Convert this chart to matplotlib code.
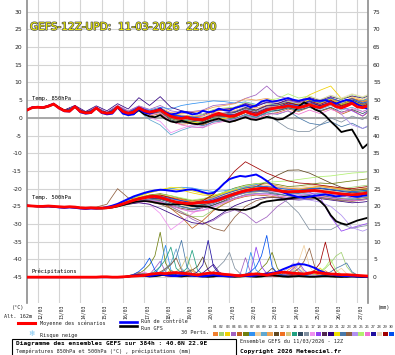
import numpy as np
import matplotlib
matplotlib.use('Agg')
import matplotlib.pyplot as plt
import matplotlib.patheffects as pe
from matplotlib.patches import Rectangle
from matplotlib.lines import Line2D

plt.rcParams['axes.unicode_minus'] = False
W, H = 395, 355
MONO = 'DejaVu Sans Mono'

# forecast hours (run 11/03 12Z, 384h)
hours = np.arange(0, 385, 6)
pert_hours = [0] + list(range(6, 379, 12)) + [384]
precip_pert_hours = np.arange(114, 385, 6)
day_labels = ['12/03', '13/03', '14/03', '15/03', '16/03', '17/03', '18/03', '19/03',
              '20/03', '21/03', '22/03', '23/03', '24/03', '25/03', '26/03', '27/03']
day_hours = [12 + 24 * i for i in range(len(day_labels))]

# 850 hPa temperature (C)
t850_mean = [2.2, 2.9, 3.0, 2.9, 3.3, 3.9, 2.8, 2.0, 1.9, 3.2,
             1.8, 1.4, 1.5, 2.8, 1.6, 1.3, 1.5, 3.1, 1.8, 1.3,
             1.6, 2.8, 2.0, 1.6, 1.9, 2.3, 1.3, 0.4, 0.0, -0.2,
             0.2, -0.3, -0.4, -0.5, 0.1, 0.8, 1.3, 0.8, 0.4, 0.6,
             1.2, 1.8, 1.2, 0.8, 1.5, 2.2, 2.6, 2.9, 3.0, 3.4,
             3.1, 2.9, 3.2, 3.7, 3.2, 2.9, 3.5, 4.1, 3.2, 2.8,
             3.4, 4.1, 3.1, 2.9, 3.4]
t850_ctrl = [2.2, 3.0, 3.1, 2.9, 3.4, 4.0, 2.7, 1.9, 1.8, 3.3,
             1.6, 1.2, 1.4, 2.9, 1.4, 1.0, 1.2, 3.0, 1.2, 0.8,
             1.0, 2.5, 1.5, 1.2, 1.8, 2.7, 1.5, 1.0, 1.2, 1.8,
             1.5, 1.0, 1.2, 2.0, 1.6, 1.8, 2.6, 2.2, 2.0, 2.8,
             3.2, 3.6, 3.0, 3.5, 4.6, 5.0, 4.6, 4.8, 5.2, 5.6,
             5.1, 4.8, 5.2, 5.4, 4.9, 4.8, 5.0, 4.4, 4.0, 4.6,
             5.1, 4.7, 3.8, 3.0, 2.6]
t850_gfs = [2.2, 2.9, 3.0, 2.8, 3.2, 3.8, 2.9, 2.1, 2.0, 3.1,
            1.9, 1.5, 1.6, 2.7, 1.7, 1.4, 1.6, 3.0, 1.5, 1.0,
            1.1, 2.2, 1.0, 0.4, 0.2, 0.8, -0.3, -1.0, -1.3, -0.8,
            -1.2, -1.6, -1.8, -1.5, -1.0, -0.6, -0.2, -0.8, -1.2, -0.8,
            -0.3, 0.2, -0.4, -0.6, -0.2, 0.3, 0.0, -0.5, -0.3, 0.6,
            1.5, 3.2, 4.4, 3.6, 2.4, 1.8, 0.6, -1.0, -2.4, -4.0,
            -3.6, -3.3, -5.8, -8.6, -7.3]

# 500 hPa temperature (C)
t500_mean = [-24.8, -24.9, -25.0, -25.0, -24.9, -25.0, -25.1, -25.2, -25.1, -25.2,
             -25.4, -25.5, -25.4, -25.5, -25.5, -25.4, -25.2, -24.8, -24.3, -23.8,
             -23.3, -22.9, -22.6, -22.3, -22.2, -22.5, -22.9, -23.4, -23.8, -24.0,
             -24.2, -24.2, -24.0, -23.9, -23.8, -23.6, -23.2, -22.6, -22.0, -21.5,
             -21.0, -20.6, -20.3, -20.1, -19.9, -19.9, -20.2, -20.5, -20.8, -20.9,
             -20.8, -20.8, -20.7, -20.6, -20.5, -20.7, -20.9, -21.1, -21.3, -21.5,
             -21.6, -21.7, -21.6, -21.4, -21.2]
t500_ctrl = [-24.8, -24.9, -25.0, -25.1, -25.0, -25.1, -25.3, -25.4, -25.3, -25.4,
             -25.6, -25.7, -25.6, -25.6, -25.5, -25.2, -24.8, -24.3, -23.6, -22.9,
             -22.2, -21.7, -21.2, -20.8, -20.5, -20.3, -20.4, -20.6, -20.8, -20.6,
             -20.3, -20.2, -20.5, -21.0, -21.4, -21.2, -20.0, -18.5, -17.3, -16.8,
             -16.4, -16.6, -16.3, -16.0, -16.8, -17.8, -19.0, -20.2, -21.0, -21.6,
             -22.0, -22.4, -22.6, -22.3, -22.0, -21.8, -21.6, -21.9, -22.2, -22.0,
             -21.8, -22.1, -22.3, -22.0, -21.8]
t500_gfs = [-24.8, -24.9, -25.0, -25.0, -25.0, -25.1, -25.2, -25.3, -25.2, -25.3,
            -25.5, -25.6, -25.5, -25.6, -25.6, -25.5, -25.3, -25.0, -24.6, -24.2,
            -23.8, -23.6, -23.5, -23.6, -23.9, -24.2, -24.4, -24.5, -24.4, -24.3,
            -24.5, -24.8, -25.0, -25.0, -25.1, -25.6, -26.0, -26.1, -25.9, -25.8,
            -26.0, -26.0, -25.6, -25.0, -24.0, -23.6, -23.4, -23.2, -23.1, -22.8,
            -22.6, -22.5, -22.3, -22.2, -22.5, -23.5, -25.0, -27.5, -29.2, -29.8,
            -30.2, -29.6, -29.0, -28.6, -28.2]

# precipitation (mm / 6h)
precip_mean = [0, 0, 0, 0, 0, 0, 0, 0, 0, 0,
               0, 0, 0, 0, 0.1, 0.1, 0, 0, 0.1, 0.2,
               0.3, 0.4, 0.5, 0.8, 1.0, 1.1, 1.0, 1.2, 1.3, 1.1,
               1.0, 0.8, 0.6, 0.9, 1.1, 1.2, 1.0, 0.8, 0.7, 0.5,
               0.4, 0.6, 0.8, 0.9, 0.8, 0.6, 0.9, 1.2, 1.4, 1.3,
               1.1, 1.0, 0.9, 1.2, 1.4, 1.2, 1.0, 0.9, 0.8, 0.7,
               0.7, 0.6, 0.5, 0.4, 0.3]
precip_ctrl = [0, 0, 0, 0, 0, 0, 0, 0, 0, 0,
               0, 0, 0, 0, 0, 0, 0, 0, 0, 0.2,
               0.4, 0.6, 0.5, 0.3, 0.5, 0.8, 0.6, 0.4, 0.3, 0.5,
               0.7, 0.5, 0.3, 0.2, 0.4, 0.6, 0.4, 0.3, 0.2, 0.3,
               0.5, 0.4, 0.3, 0.5, 0.8, 1.0, 1.2, 1.5, 2.2, 2.8,
               3.4, 3.7, 3.6, 3.2, 2.6, 1.8, 1.2, 0.8, 0.5, 0.4,
               0.3, 0.3, 0.2, 0.2, 0.1]
precip_gfs = [0, 0, 0, 0, 0, 0, 0, 0, 0, 0,
              0, 0, 0, 0, 0, 0, 0, 0, 0, 0.2,
              0.4, 0.6, 0.4, 0.2, 0.3, 0.5, 0.8, 0.5, 0.3, 0.2,
              0.4, 0.6, 0.3, 0.2, 0.1, 0.2, 0.4, 0.3, 0.2, 0.1,
              0.2, 0.3, 0.2, 0.1, 0.2, 0.4, 0.6, 0.4, 0.2, 0.1,
              0.2, 0.3, 0.2, 0.1, 0.1, 0.2, 0.3, 0.2, 0.1, 0.1,
              0.1, 0.2, 0.1, 0.1, 0.1]

pert_colors = ['#f08030', '#a0d070', '#f0d000', '#a060c0', '#c06020', '#708010',
               '#3090f0', '#f0d0a0', '#60a8d0', '#f0a050', '#604820', '#f07020',
               '#d8c880', '#20a080', '#304860', '#8090a0', '#f090f0', '#9040f0',
               '#502850', '#300080', '#f0e000', '#4878a8', '#906040', '#b090f0',
               '#b0f070', '#f070d0', '#2010a0', '#e8d8b8', '#a00000', '#0050f0']

t850_perts = [
    [2.2, 2.9, 3.0, 3.8, 2.1, 3.3, 1.5, 2.7, 1.2, 3.3, 1.5, 3.0, 1.8, 2.5, 0.8, 0.5, 0.2, -0.3, 1.5, 1.2, 2.0, 3.0, 2.2, 3.6, 3.5, 4.8, 4.2, 5.6, 4.0, 5.8, 4.5, 5.5, 4.8, 5.2],
    [2.2, 2.8, 2.9, 4.0, 2.0, 3.1, 1.3, 2.9, 1.4, 3.0, 1.0, 2.5, 1.0, 1.8, -0.5, -1.2, -0.8, -1.5, 0.2, 0.5, 1.0, 2.5, 1.5, 3.0, 2.8, 4.5, 3.6, 5.2, 3.5, 5.0, 3.2, 4.6, 3.0, 3.8],
    [2.2, 3.0, 2.9, 3.9, 1.9, 3.2, 1.5, 2.8, 1.5, 3.4, 1.8, 3.2, 2.0, 2.8, 1.2, 0.8, 0.5, 0.0, 1.0, 0.6, 0.2, 1.5, 1.0, 2.8, 3.8, 5.0, 4.5, 6.5, 7.8, 9.0, 5.5, 6.0, 5.0, 5.5],
    [2.2, 2.9, 2.8, 3.8, 2.0, 3.3, 1.6, 3.0, 1.6, 3.5, 2.0, 3.4, 2.4, 3.5, 2.0, 1.5, 1.8, 2.2, 3.5, 3.8, 4.2, 5.5, 6.5, 9.0, 6.2, 5.4, 4.0, 4.5, 3.5, 4.8, 3.2, 4.0, 2.6, 3.0],
    [2.2, 2.9, 3.1, 4.0, 2.2, 3.4, 1.4, 2.6, 1.0, 2.8, 0.8, 2.2, 0.5, 1.2, -1.0, -1.8, -1.5, -2.0, -0.5, -0.6, -1.0, 0.5, -0.5, 1.0, 1.5, 2.5, 1.8, 3.0, 1.8, 2.8, 1.0, 2.2, 0.5, 1.5],
    [2.2, 2.9, 2.9, 3.9, 2.0, 3.2, 1.4, 2.8, 1.3, 3.1, 1.2, 2.6, 1.4, 2.0, 0.0, -0.8, -0.5, -1.0, 0.5, 0.8, 1.5, 2.8, 2.0, 3.5, 4.0, 5.0, 4.4, 5.5, 4.8, 5.6, 4.2, 5.4, 4.5, 5.0],
    [2.2, 3.0, 3.0, 4.0, 2.1, 3.3, 1.5, 2.9, 1.4, 3.2, 1.5, 3.0, 2.2, 3.0, 2.5, 3.5, 4.0, 4.4, 4.8, 4.6, 4.2, 4.5, 3.8, 4.2, 3.6, 4.8, 4.0, 5.0, 4.2, 5.2, 4.0, 5.0, 4.8, 5.5],
    [2.2, 2.9, 2.9, 3.8, 1.9, 3.1, 1.3, 2.7, 1.2, 3.0, 1.1, 2.7, 1.5, 2.2, 0.2, -0.5, -0.8, -1.2, 0.0, 0.2, 0.4, 1.8, 1.2, 2.8, 3.5, 4.5, 5.0, 5.8, 4.6, 5.6, 4.2, 5.8, 5.2, 6.0],
    [2.2, 2.9, 3.0, 3.9, 2.0, 3.2, 1.3, 2.7, 1.1, 2.9, 0.5, 2.0, -0.5, -2.0, -4.8, -3.5, -2.5, -2.8, -1.0, -0.5, -0.8, 0.5, 0.0, 1.5, 2.0, 2.8, 2.0, 3.2, 2.4, 3.5, 2.2, 3.0, 1.8, 2.4],
    [2.2, 2.9, 2.9, 3.9, 2.0, 3.2, 1.4, 2.8, 1.3, 3.1, 1.4, 3.0, 1.9, 2.8, 1.5, 1.2, 1.6, 2.0, 3.0, 3.5, 4.0, 5.4, 5.0, 5.5, 4.8, 5.2, 4.5, 5.0, 4.2, 4.8, 3.8, 5.2, 4.6, 5.0],
    [2.2, 2.9, 2.9, 3.9, 2.0, 3.2, 1.4, 2.8, 1.4, 3.2, 1.6, 3.0, 1.2, 1.8, -0.2, -1.0, -1.5, -1.8, -0.8, -0.4, 0.2, 1.5, 0.6, 2.0, 2.5, 3.8, 3.0, 4.2, 3.5, 4.6, 3.8, 5.0, 4.0, 4.5],
    [2.2, 2.9, 3.0, 3.9, 2.1, 3.3, 1.5, 2.9, 1.4, 3.1, 1.3, 2.9, 1.7, 2.4, 0.6, 0.0, 0.2, 0.5, 1.8, 2.2, 2.5, 3.8, 2.8, 3.4, 3.0, 4.2, 3.4, 4.8, 3.6, 5.2, 4.6, 5.6, 4.4, 4.8],
    [2.2, 2.9, 2.9, 3.9, 2.0, 3.2, 1.4, 2.8, 1.3, 3.0, 1.2, 2.7, 1.5, 2.3, 0.5, 0.0, -0.2, -0.8, 0.5, 0.6, 0.8, 2.2, 1.8, 3.2, 3.8, 4.6, 4.0, 5.2, 3.8, 5.0, 3.6, 4.8, 3.8, 4.4],
    [2.2, 2.9, 3.0, 4.0, 2.0, 3.1, 1.3, 2.8, 1.3, 3.1, 1.4, 2.8, 1.6, 2.2, 0.2, -0.6, -1.0, -1.4, -0.2, 0.0, -0.4, 0.8, 0.2, 1.6, 2.2, 3.0, 2.4, 3.6, 2.6, 4.0, 2.8, 4.4, 3.2, 3.8],
    [2.2, 2.9, 2.9, 3.8, 1.9, 3.1, 1.3, 2.7, 1.2, 2.9, 1.0, 2.4, 1.0, 1.6, -0.6, -1.4, -1.0, -0.6, 0.6, 1.0, 1.6, 2.6, 1.8, 2.6, 2.0, 2.8, 2.2, 3.0, 2.0, 3.0, 1.6, 2.4, 1.2, 2.0],
    [2.2, 2.9, 2.9, 3.9, 2.0, 3.2, 1.4, 2.8, 1.3, 3.1, 1.3, 2.8, 1.6, 2.4, 0.6, 0.2, 0.0, -0.4, 0.6, 0.6, 0.8, 2.0, 0.6, 1.0, -1.0, -3.0, -3.9, -3.8, -2.0, 0.0, -1.2, 0.5, -0.5, 0.8],
    [2.2, 2.9, 3.0, 3.9, 2.0, 3.2, 1.3, 2.7, 1.2, 2.9, 0.8, 2.2, 0.2, -1.0, -4.2, -3.0, -2.0, -2.5, -0.8, -0.2, -0.5, 1.0, 0.4, 2.0, 2.6, 3.4, 2.8, 3.8, 3.0, 4.2, 3.0, 4.0, 2.6, 3.2],
    [2.2, 2.9, 2.9, 3.9, 2.1, 3.3, 1.5, 2.9, 1.5, 3.3, 1.7, 3.2, 2.0, 2.6, 1.0, 0.6, 0.4, 0.8, 2.2, 2.6, 3.0, 4.2, 3.4, 4.6, 4.2, 5.0, 4.2, 5.4, 4.4, 5.8, 3.0, 2.0, 0.5, 1.8],
    [2.2, 2.9, 2.9, 3.9, 2.0, 3.2, 1.4, 2.8, 1.3, 3.1, 1.3, 2.9, 1.6, 2.4, 0.4, -0.4, -0.6, -1.0, 0.2, 0.4, 0.8, 2.0, 1.4, 2.8, 3.2, 4.0, 3.2, 4.4, 3.4, 4.8, 3.6, 5.0, 3.8, 4.2],
    [2.2, 3.0, 3.0, 4.0, 2.2, 3.5, 1.8, 3.4, 2.0, 4.0, 2.5, 5.7, 3.5, 6.0, 3.0, 2.0, 1.5, 1.0, 2.0, 2.4, 2.8, 4.0, 3.2, 4.4, 4.0, 5.2, 4.6, 5.8, 5.0, 6.0, 5.2, 6.2, 5.6, 6.2],
    [2.2, 2.9, 2.9, 3.9, 2.0, 3.2, 1.4, 2.8, 1.3, 3.1, 1.3, 2.7, 1.4, 2.0, 0.0, -0.8, -1.2, -1.6, -0.4, -0.2, 0.4, 1.6, 1.2, 2.6, 3.4, 4.4, 3.8, 5.0, 4.2, 5.4, 3.8, 4.8, 3.6, 4.0],
    [2.2, 2.9, 2.9, 3.9, 2.0, 3.1, 1.3, 2.7, 1.2, 3.0, 1.2, 2.6, 1.4, 2.0, 0.0, -0.8, -1.6, -2.2, -1.2, -0.8, -0.2, 1.0, 0.2, 1.4, 1.0, 2.0, 0.0, -1.5, -2.0, -1.0, -2.5, -1.5, -3.0, -2.4],
    [2.2, 2.9, 3.0, 3.9, 2.0, 3.2, 1.4, 2.8, 1.3, 3.1, 1.3, 2.8, 1.6, 2.2, 0.4, -0.2, -0.4, -0.8, 0.4, 0.6, 0.4, 1.6, 0.8, 2.2, 2.8, 3.6, 3.0, 4.0, 3.2, 4.4, 3.4, 4.6, 3.6, 4.2],
    [2.2, 2.9, 2.9, 3.9, 2.0, 3.3, 1.5, 2.9, 1.4, 3.2, 1.4, 2.9, 1.6, 2.4, 0.8, 0.2, 0.0, -0.4, 0.8, 1.0, 1.2, 2.4, 1.6, 3.0, 3.2, 4.0, 3.4, 4.4, 3.8, 4.6, 1.0, -2.0, -3.0, -2.2],
    [2.2, 2.9, 2.9, 3.9, 2.0, 3.2, 1.4, 2.8, 1.3, 3.1, 1.2, 2.8, 1.6, 2.4, 0.6, 0.0, 0.4, 1.0, 2.4, 2.8, 3.0, 4.4, 3.6, 5.0, 5.4, 6.8, 5.6, 6.2, 5.0, 6.4, 5.2, 6.6, 5.8, 6.4],
    [2.2, 2.9, 3.0, 3.9, 2.0, 3.2, 1.4, 2.8, 1.2, 3.0, 1.0, 2.4, 0.8, 1.5, -1.0, -2.0, -2.6, -2.8, -1.6, -1.0, -0.8, 0.4, -0.4, 1.0, 1.2, 2.0, 1.0, 2.2, 1.2, 2.4, 1.4, 2.6, 1.8, 2.4],
    [2.2, 2.9, 2.9, 3.9, 2.0, 3.2, 1.4, 2.8, 1.3, 3.1, 1.4, 3.0, 1.8, 2.6, 0.8, 0.4, 0.2, 0.0, 1.2, 1.4, 1.8, 3.0, 2.2, 3.4, 3.6, 4.4, 3.6, 4.6, 3.4, 4.4, 3.0, 4.2, 3.4, 3.8],
    [2.2, 2.9, 2.9, 3.9, 2.0, 3.2, 1.4, 2.8, 1.3, 3.1, 1.3, 2.8, 1.5, 2.2, 0.2, -0.4, -0.2, 0.2, 1.2, 1.6, 2.0, 3.2, 2.6, 4.0, 4.4, 5.4, 4.8, 6.0, 5.2, 6.4, 5.6, 6.8, 6.0, 6.6],
    [2.2, 2.9, 2.9, 3.9, 2.0, 3.2, 1.4, 2.8, 1.3, 3.1, 1.3, 2.8, 1.6, 2.4, 0.6, 0.0, -0.4, -0.6, 0.6, 0.8, 1.0, 2.2, 1.4, 2.6, 3.0, 4.2, 3.6, 4.8, 3.8, 5.0, 3.4, 4.4, 3.2, 3.8],
    [2.2, 2.9, 2.9, 3.9, 2.0, 3.2, 1.4, 2.8, 1.3, 3.1, 1.5, 3.0, 1.8, 2.6, 1.0, 0.4, 0.2, -0.2, 1.0, 1.0, 0.8, 2.0, 1.2, 2.6, 3.0, 3.8, 3.4, 4.8, 4.4, 5.6, 4.6, 5.4, 4.2, 4.6],
]

t500_perts = [
    [-24.8, -24.9, -25.0, -25.1, -25.2, -25.3, -25.6, -25.5, -25.3, -24.6, -23.4, -22.4, -21.8, -21.6, -22.5, -23.0, -23.6, -23.2, -22.4, -21.2, -20.4, -19.6, -19.0, -18.6, -19.2, -19.8, -20.2, -19.8, -19.4, -19.8, -20.2, -20.4, -20.0, -19.8],
    [-24.8, -24.9, -25.0, -25.0, -25.1, -25.2, -25.4, -25.5, -25.6, -25.2, -24.5, -23.8, -23.5, -24.0, -25.2, -26.5, -27.9, -27.9, -26.0, -24.2, -22.8, -21.6, -21.0, -20.6, -21.0, -21.4, -21.2, -20.8, -20.4, -20.2, -20.0, -19.6, -19.2, -19.0],
    [-24.8, -24.9, -25.1, -25.0, -25.1, -25.2, -25.5, -25.4, -25.3, -24.6, -23.2, -22.0, -21.0, -20.2, -20.0, -20.4, -21.2, -21.8, -22.0, -21.4, -20.6, -20.0, -19.4, -19.8, -20.6, -21.0, -20.4, -19.8, -19.2, -19.6, -20.2, -20.6, -20.2, -20.0],
    [-24.8, -24.9, -25.0, -25.0, -25.2, -25.3, -25.5, -25.6, -25.4, -24.9, -24.0, -23.2, -22.8, -23.6, -25.0, -26.6, -28.6, -30.0, -29.0, -27.0, -26.0, -27.2, -29.7, -28.0, -25.0, -23.0, -22.0, -21.6, -21.2, -21.6, -22.0, -22.6, -22.4, -22.2],
    [-24.8, -24.9, -25.0, -25.0, -25.1, -25.2, -25.4, -25.5, -25.4, -24.8, -23.8, -23.0, -22.6, -23.4, -25.6, -28.0, -31.2, -29.0, -26.2, -24.4, -23.0, -22.2, -21.8, -22.0, -22.4, -22.8, -22.6, -22.2, -22.0, -22.4, -22.8, -23.0, -22.6, -22.4],
    [-24.8, -24.9, -25.0, -25.0, -25.2, -25.2, -25.5, -25.5, -25.4, -24.8, -23.6, -22.6, -21.8, -21.4, -22.0, -22.8, -23.4, -23.0, -22.2, -21.0, -19.8, -19.0, -18.6, -18.4, -18.8, -19.4, -19.2, -18.8, -18.4, -18.6, -18.2, -17.8, -17.4, -17.2],
    [-24.8, -24.9, -25.0, -25.1, -25.2, -25.3, -25.5, -25.6, -25.4, -24.6, -23.2, -22.0, -21.0, -20.4, -20.0, -19.6, -19.8, -20.4, -20.8, -20.6, -20.0, -19.4, -18.8, -19.6, -20.4, -21.0, -21.4, -21.8, -22.0, -21.6, -21.2, -21.0, -20.8, -20.6],
    [-24.8, -24.9, -25.0, -25.0, -25.1, -25.2, -25.4, -25.4, -25.3, -24.8, -24.0, -23.2, -22.8, -22.8, -23.6, -24.4, -25.0, -24.6, -23.8, -22.6, -21.2, -20.2, -19.6, -19.2, -19.4, -19.8, -19.6, -19.2, -19.0, -19.4, -19.8, -20.0, -19.6, -19.4],
    [-24.8, -24.9, -25.0, -25.0, -25.2, -25.3, -25.6, -25.6, -25.5, -25.0, -24.2, -23.4, -22.8, -22.6, -23.2, -24.0, -24.8, -24.6, -24.0, -22.8, -21.6, -20.8, -20.4, -20.2, -20.8, -21.4, -21.6, -21.2, -21.4, -22.0, -22.6, -22.8, -22.4, -22.2],
    [-24.8, -24.9, -25.0, -25.0, -25.1, -25.2, -25.5, -25.5, -25.4, -24.8, -23.8, -22.8, -22.2, -22.0, -22.6, -23.2, -23.6, -23.2, -22.6, -21.6, -20.6, -19.8, -19.4, -19.2, -19.6, -20.0, -20.0, -19.6, -19.4, -19.8, -20.2, -20.6, -20.4, -20.2],
    [-24.8, -24.9, -25.0, -25.0, -25.2, -25.2, -25.5, -25.5, -25.4, -24.8, -24.0, -23.4, -23.2, -23.8, -24.8, -25.6, -26.0, -25.4, -24.6, -23.4, -22.0, -20.6, -19.4, -18.0, -16.2, -14.8, -14.7, -15.6, -17.0, -18.4, -19.6, -20.4, -20.2, -20.0],
    [-24.8, -24.9, -25.0, -25.0, -25.1, -25.2, -25.4, -25.5, -25.3, -24.7, -23.6, -22.6, -22.0, -21.8, -22.4, -23.0, -23.8, -23.6, -23.0, -22.0, -21.0, -20.2, -19.8, -19.6, -20.0, -20.4, -20.6, -20.2, -20.0, -20.6, -21.2, -21.6, -21.4, -21.2],
    [-24.8, -24.9, -25.0, -25.0, -25.2, -25.3, -25.5, -25.6, -25.5, -24.9, -24.2, -23.6, -23.0, -23.0, -23.8, -24.6, -25.2, -24.8, -24.0, -22.8, -21.8, -21.0, -20.6, -20.4, -20.8, -21.2, -21.0, -20.8, -20.6, -21.0, -21.6, -22.0, -21.8, -21.6],
    [-24.8, -24.9, -25.0, -25.0, -25.1, -25.2, -25.5, -25.5, -25.4, -24.8, -23.8, -23.0, -22.4, -22.4, -23.2, -24.2, -25.0, -24.4, -23.4, -22.2, -21.2, -20.4, -20.0, -20.0, -20.6, -21.2, -21.0, -20.4, -20.0, -20.4, -20.8, -21.0, -20.6, -20.4],
    [-24.8, -24.9, -25.0, -25.0, -25.2, -25.2, -25.5, -25.5, -25.4, -24.9, -24.0, -23.2, -22.8, -23.0, -24.0, -25.0, -25.8, -25.4, -24.6, -23.6, -22.6, -21.8, -21.4, -21.2, -21.6, -22.0, -22.4, -22.2, -22.4, -22.8, -23.2, -23.4, -23.0, -22.8],
    [-24.8, -24.9, -25.0, -25.0, -25.1, -25.2, -25.4, -25.5, -25.4, -24.8, -24.0, -23.2, -22.6, -22.6, -23.4, -24.2, -24.6, -24.2, -23.4, -22.4, -21.4, -20.8, -20.6, -20.8, -22.0, -24.0, -26.9, -31.6, -31.6, -31.6, -30.0, -31.2, -30.6, -30.4],
    [-24.8, -24.9, -25.0, -25.0, -25.2, -25.3, -25.6, -25.6, -25.4, -24.8, -24.2, -23.8, -24.4, -27.0, -31.6, -29.4, -27.0, -25.4, -24.2, -23.0, -22.0, -21.2, -20.8, -20.6, -21.0, -21.6, -21.8, -21.4, -21.0, -21.4, -21.8, -22.2, -22.0, -21.8],
    [-24.8, -24.9, -25.0, -25.0, -25.1, -25.2, -25.5, -25.5, -25.4, -24.8, -23.8, -23.0, -22.6, -22.8, -23.6, -24.2, -24.4, -24.0, -23.2, -22.2, -21.2, -20.4, -20.0, -19.8, -20.2, -20.6, -20.8, -21.0, -22.4, -27.9, -32.0, -31.0, -30.2, -29.8],
    [-24.8, -24.9, -25.0, -25.0, -25.2, -25.2, -25.5, -25.5, -25.4, -24.8, -24.0, -23.2, -22.8, -22.8, -23.6, -24.4, -25.0, -24.6, -23.8, -22.8, -21.8, -21.0, -20.6, -20.4, -20.8, -21.2, -21.2, -20.8, -20.6, -21.0, -21.6, -22.0, -21.8, -21.6],
    [-24.8, -24.9, -25.0, -25.1, -25.2, -25.3, -25.5, -25.6, -25.5, -25.0, -24.4, -24.0, -24.4, -25.6, -27.0, -28.4, -29.6, -30.0, -28.6, -26.6, -24.8, -23.6, -22.8, -22.4, -22.6, -23.0, -23.2, -23.0, -22.8, -23.2, -23.6, -24.0, -23.8, -23.6],
    [-24.8, -24.9, -25.0, -25.0, -25.1, -25.2, -25.4, -25.5, -25.3, -24.6, -23.4, -22.2, -21.2, -20.4, -19.6, -19.8, -20.6, -21.4, -21.8, -21.2, -20.4, -19.8, -19.4, -19.6, -20.2, -20.6, -20.4, -20.0, -19.8, -20.2, -20.6, -21.0, -20.8, -20.6],
    [-24.8, -24.9, -25.0, -25.0, -25.2, -25.2, -25.5, -25.5, -25.4, -24.8, -24.0, -23.4, -23.0, -23.4, -24.4, -25.2, -25.6, -25.0, -24.2, -23.0, -22.0, -21.2, -20.8, -20.8, -21.4, -22.0, -22.2, -22.0, -21.8, -22.4, -23.0, -23.2, -23.0, -22.8],
    [-24.8, -24.9, -25.0, -25.0, -25.1, -25.2, -25.4, -25.2, -24.4, -20.0, -22.6, -23.2, -23.8, -24.4, -25.6, -27.0, -28.0, -29.4, -31.2, -32.0, -28.0, -25.0, -23.4, -22.6, -22.4, -22.8, -23.0, -22.8, -22.6, -23.0, -23.4, -23.6, -23.2, -23.0],
    [-24.8, -24.9, -25.0, -25.0, -25.2, -25.3, -25.5, -25.6, -25.4, -24.9, -24.0, -23.4, -23.2, -23.6, -24.8, -25.8, -26.4, -26.0, -25.0, -23.8, -22.6, -21.8, -21.4, -21.4, -22.0, -22.6, -23.0, -23.2, -23.8, -25.0, -27.5, -31.0, -32.0, -31.4],
    [-24.8, -24.9, -25.0, -25.0, -25.1, -25.2, -25.4, -25.5, -25.3, -24.7, -23.6, -22.6, -22.0, -21.6, -22.0, -22.6, -23.2, -22.8, -22.0, -21.0, -20.0, -19.2, -18.6, -18.2, -18.0, -17.8, -17.4, -17.0, -16.6, -16.4, -16.0, -15.6, -15.4, -15.2],
    [-24.8, -24.9, -25.0, -25.0, -25.2, -25.2, -25.5, -25.5, -25.4, -24.9, -24.2, -23.6, -23.4, -23.8, -24.8, -25.8, -26.6, -26.2, -25.2, -24.0, -22.8, -22.0, -21.6, -21.6, -22.0, -22.4, -22.6, -22.4, -22.2, -22.6, -23.0, -23.4, -23.2, -23.0],
    [-24.8, -24.9, -25.0, -25.0, -25.1, -25.2, -25.5, -25.5, -25.4, -24.8, -23.8, -22.8, -22.2, -22.2, -23.0, -23.8, -24.4, -24.0, -23.2, -22.2, -21.2, -20.4, -20.0, -19.8, -20.2, -20.6, -20.6, -20.2, -20.0, -20.4, -20.8, -21.2, -21.0, -20.8],
    [-24.8, -24.9, -25.0, -25.0, -25.2, -25.3, -25.5, -25.6, -25.5, -24.9, -24.0, -23.2, -22.6, -22.4, -23.0, -23.8, -24.4, -24.2, -23.6, -22.6, -21.6, -20.8, -20.2, -19.8, -20.0, -20.4, -20.6, -20.4, -20.2, -20.6, -21.0, -21.4, -21.2, -21.0],
    [-24.8, -24.9, -25.0, -25.0, -25.1, -25.2, -25.4, -25.5, -25.3, -24.7, -23.6, -22.6, -22.0, -21.8, -22.6, -23.4, -24.0, -23.4, -21.6, -18.6, -15.0, -12.4, -14.0, -15.6, -16.8, -17.8, -18.4, -18.6, -19.0, -19.4, -19.8, -20.0, -19.6, -19.4],
    [-24.8, -24.9, -25.0, -25.0, -25.2, -25.2, -25.5, -25.5, -25.4, -24.8, -23.8, -23.0, -22.4, -22.2, -22.8, -23.4, -24.0, -23.6, -22.8, -21.6, -20.6, -19.8, -19.4, -19.4, -19.8, -20.2, -20.4, -20.0, -19.8, -20.2, -20.6, -20.8, -20.6, -20.4],
]

# perturbation precipitation from 16/03 06Z (before that all dry)
precip_perts = [
    [0.2, 0.5, 0.8, 0.4, 0.2, 0.6, 1.2, 0.8, 0.4, 0.2, 0.5, 1.0, 1.6, 1.0, 0.4, 0.2, 0.1, 0.3, 0.6, 0.4, 0.2, 0.1, 0.3, 0.8, 1.2, 0.6, 0.3, 0.2, 0.4, 0.6, 2.0, 3.0, 1.5, 0.6, 0.3, 0.2, 0.4, 0.8, 0.5, 0.3, 0.2, 0.2, 0.4, 0.3, 0.2, 0.1],
    [0.1, 0.3, 0.6, 1.0, 0.5, 0.3, 0.8, 1.4, 0.6, 0.3, 0.2, 0.4, 0.8, 0.5, 0.3, 0.6, 0.4, 0.2, 0.1, 0.3, 0.5, 0.8, 0.4, 0.2, 0.3, 0.6, 1.0, 0.5, 0.3, 0.2, 0.4, 0.8, 1.5, 1.0, 0.6, 0.4, 1.2, 2.5, 4.0, 6.0, 7.0, 3.0, 1.2, 0.5, 0.3, 0.2],
    [0.3, 0.6, 1.0, 0.6, 0.3, 0.2, 0.5, 1.0, 2.0, 1.2, 0.6, 0.3, 0.2, 0.4, 0.8, 0.5, 0.3, 0.2, 0.1, 0.2, 0.4, 0.6, 0.3, 0.2, 0.5, 0.9, 0.6, 0.3, 0.2, 0.4, 0.8, 1.2, 0.6, 0.3, 0.2, 0.4, 0.6, 0.3, 0.2, 0.1, 0.2, 0.4, 0.8, 0.5, 0.2, 0.1],
    [0.2, 0.4, 0.8, 1.2, 0.8, 2.5, 4.5, 1.5, 0.6, 0.3, 0.2, 0.4, 0.6, 0.3, 0.2, 0.1, 0.3, 0.5, 0.3, 0.2, 0.4, 0.8, 5.5, 1.2, 0.6, 0.3, 0.2, 0.4, 0.6, 0.4, 0.3, 0.2, 0.4, 0.8, 0.5, 0.3, 0.2, 0.1, 0.2, 0.3, 0.2, 0.1, 0.2, 0.3, 0.2, 0.1],
    [0.4, 0.8, 1.4, 0.8, 0.4, 0.2, 0.6, 1.0, 0.6, 0.3, 0.8, 1.6, 2.2, 1.0, 0.5, 0.3, 0.2, 0.4, 0.6, 0.3, 0.2, 0.1, 0.2, 0.4, 0.6, 0.3, 0.2, 0.4, 0.8, 0.4, 0.2, 0.3, 0.5, 0.3, 0.2, 0.4, 0.6, 0.3, 0.2, 0.1, 0.1, 0.2, 0.4, 0.3, 0.2, 0.1],
    [0.3, 0.6, 1.0, 2.0, 3.5, 6.0, 12.7, 4.0, 1.5, 0.8, 0.4, 0.2, 0.5, 0.8, 0.4, 0.3, 0.2, 0.4, 0.6, 0.3, 0.2, 0.4, 0.8, 1.2, 0.8, 2.5, 4.0, 7.0, 2.5, 1.0, 0.5, 0.3, 0.2, 0.4, 0.6, 0.3, 0.2, 0.4, 0.6, 0.3, 0.2, 0.1, 0.2, 0.3, 0.2, 0.1],
    [0.2, 0.4, 0.8, 0.5, 0.3, 1.0, 3.0, 9.0, 2.0, 0.8, 0.4, 0.6, 1.0, 0.6, 0.3, 0.2, 0.4, 0.8, 0.5, 0.3, 0.2, 0.3, 0.6, 7.0, 2.0, 0.8, 0.4, 0.2, 0.3, 0.5, 0.8, 0.5, 0.3, 0.2, 0.4, 0.6, 0.3, 0.2, 0.1, 0.2, 0.3, 0.2, 0.1, 0.2, 0.1, 0.1],
    [0.1, 0.2, 0.4, 0.6, 0.4, 0.2, 0.5, 0.8, 0.5, 0.3, 0.2, 0.4, 0.6, 0.3, 0.2, 0.4, 0.8, 1.2, 0.6, 0.3, 0.2, 0.4, 0.6, 0.3, 0.2, 0.4, 0.8, 0.5, 0.3, 0.6, 1.2, 2.5, 4.5, 9.0, 3.0, 1.0, 0.5, 0.3, 0.6, 1.5, 2.5, 1.0, 0.5, 0.3, 0.2, 0.1],
    [0.2, 0.5, 1.0, 0.8, 0.4, 0.6, 1.2, 2.5, 4.0, 8.0, 2.5, 1.0, 0.5, 0.3, 0.2, 0.4, 0.6, 0.3, 0.2, 0.1, 0.2, 0.4, 0.3, 0.2, 0.4, 0.6, 0.8, 0.4, 0.2, 0.3, 0.5, 0.3, 0.2, 0.4, 0.6, 0.3, 0.2, 0.1, 0.2, 0.3, 0.2, 0.1, 0.2, 0.1, 0.1, 0.1],
    [0.3, 0.6, 0.4, 0.2, 0.5, 0.9, 0.6, 0.3, 0.5, 1.0, 1.5, 0.8, 0.4, 0.2, 0.3, 0.6, 1.0, 0.6, 0.3, 0.2, 0.4, 0.6, 0.3, 0.2, 0.5, 0.8, 1.4, 0.8, 0.4, 0.2, 0.3, 0.6, 0.4, 0.2, 0.3, 0.6, 1.0, 0.5, 0.3, 0.2, 0.1, 0.2, 0.3, 0.2, 0.1, 0.1],
    [0.2, 0.3, 0.6, 0.9, 0.5, 0.3, 0.6, 1.0, 0.6, 0.4, 0.8, 1.4, 2.0, 3.0, 5.7, 2.0, 0.8, 0.4, 0.2, 0.3, 0.6, 0.4, 0.2, 0.3, 0.5, 0.8, 1.2, 2.5, 1.2, 0.6, 0.3, 0.2, 0.4, 0.6, 0.3, 0.2, 0.4, 0.8, 0.4, 0.2, 0.1, 0.2, 0.3, 0.2, 0.1, 0.1],
    [0.1, 0.3, 0.5, 0.8, 0.5, 0.3, 0.4, 0.8, 1.2, 0.6, 0.3, 0.2, 0.4, 0.8, 0.5, 0.3, 0.2, 0.4, 0.6, 0.3, 0.2, 0.4, 0.8, 0.5, 0.3, 0.2, 0.4, 0.7, 0.4, 0.2, 0.4, 0.8, 1.2, 0.6, 0.3, 0.5, 1.0, 1.8, 0.8, 0.4, 0.2, 0.3, 0.5, 0.3, 0.2, 0.1],
    [0.2, 0.4, 0.7, 0.4, 0.2, 0.5, 0.9, 0.5, 0.8, 1.6, 2.8, 5.8, 2.0, 0.8, 0.4, 0.2, 0.4, 0.8, 0.5, 0.3, 0.2, 0.4, 0.6, 0.4, 0.2, 0.3, 0.6, 0.4, 0.2, 0.5, 1.0, 2.0, 3.5, 1.5, 0.6, 0.3, 0.2, 0.4, 0.6, 0.3, 0.2, 0.1, 0.2, 0.3, 0.2, 0.1],
    [0.3, 0.6, 1.0, 0.6, 0.8, 1.6, 3.0, 5.0, 8.5, 2.5, 1.2, 2.5, 7.6, 2.0, 0.8, 0.4, 0.2, 0.3, 0.5, 0.3, 0.2, 0.4, 0.6, 0.3, 0.2, 0.4, 0.8, 0.5, 0.3, 0.2, 0.4, 0.6, 0.3, 0.2, 0.4, 0.3, 0.2, 0.1, 0.2, 0.3, 0.2, 0.1, 0.1, 0.2, 0.1, 0.1],
    [0.2, 0.3, 0.5, 0.8, 0.5, 0.3, 0.6, 1.0, 0.6, 0.3, 0.5, 0.8, 0.5, 0.3, 0.6, 1.0, 0.6, 0.3, 0.2, 0.4, 0.6, 0.3, 0.2, 0.4, 0.8, 0.5, 0.3, 0.2, 0.4, 0.6, 0.3, 0.2, 0.4, 0.8, 1.2, 0.6, 0.3, 0.2, 0.3, 0.5, 0.3, 0.2, 0.4, 0.2, 0.1, 0.1],
    [0.1, 0.2, 0.4, 0.6, 0.4, 0.3, 0.6, 1.0, 0.6, 0.3, 0.4, 0.6, 0.3, 0.2, 0.4, 0.8, 1.5, 3.0, 4.5, 7.0, 2.5, 1.0, 0.4, 0.2, 0.3, 0.6, 0.4, 0.2, 0.3, 0.5, 0.8, 1.6, 2.4, 1.0, 0.4, 0.2, 0.3, 0.6, 0.4, 0.2, 0.1, 0.2, 0.3, 0.2, 0.1, 0.1],
    [0.3, 0.6, 1.0, 1.5, 0.8, 0.4, 0.6, 1.0, 0.6, 0.3, 0.2, 0.4, 0.6, 0.3, 0.2, 0.4, 0.6, 0.3, 0.2, 0.1, 0.2, 0.4, 0.6, 0.4, 0.2, 0.3, 0.5, 0.3, 0.2, 0.4, 0.6, 0.3, 0.2, 0.5, 0.9, 0.5, 0.3, 0.2, 0.4, 0.6, 0.3, 0.2, 0.4, 0.3, 0.2, 0.1],
    [0.2, 0.4, 0.6, 0.3, 0.2, 0.5, 0.8, 0.5, 0.3, 0.6, 1.0, 0.6, 0.3, 0.2, 0.4, 0.6, 0.3, 0.2, 0.4, 0.6, 0.3, 0.2, 0.4, 1.5, 8.5, 3.0, 1.0, 0.5, 0.3, 0.6, 1.2, 2.5, 4.2, 2.0, 0.8, 0.4, 0.2, 0.4, 0.6, 0.3, 0.2, 0.1, 0.2, 0.3, 0.2, 0.1],
    [0.1, 0.3, 0.6, 0.4, 0.2, 0.4, 0.7, 0.4, 0.2, 0.4, 0.6, 0.4, 0.2, 0.3, 0.5, 0.8, 0.5, 0.3, 0.2, 0.4, 0.6, 0.3, 0.2, 0.4, 0.7, 0.4, 0.2, 0.3, 0.6, 0.4, 0.2, 0.4, 0.8, 0.5, 0.3, 0.2, 0.4, 0.6, 0.3, 0.2, 0.1, 0.2, 0.3, 0.2, 0.1, 0.1],
    [0.3, 0.5, 0.8, 0.5, 0.3, 0.6, 1.0, 0.6, 0.4, 0.8, 1.2, 0.8, 0.4, 0.6, 1.2, 2.4, 3.6, 1.5, 0.6, 0.3, 0.2, 0.4, 0.6, 0.3, 0.2, 0.5, 0.8, 0.4, 0.2, 0.3, 0.5, 0.8, 1.2, 0.6, 0.3, 0.2, 0.4, 0.6, 0.3, 0.2, 0.1, 0.2, 0.2, 0.1, 0.1, 0.1],
    [0.2, 0.4, 0.6, 0.4, 0.2, 0.3, 0.6, 1.0, 0.6, 0.3, 0.5, 0.8, 0.5, 0.3, 0.2, 0.4, 0.6, 0.3, 0.2, 0.3, 0.5, 0.3, 0.2, 0.4, 0.6, 0.3, 0.2, 0.4, 0.6, 0.3, 0.2, 0.4, 0.6, 0.3, 0.8, 1.6, 2.6, 1.2, 0.5, 0.3, 0.2, 0.3, 0.5, 0.3, 0.2, 0.1],
    [0.2, 0.5, 0.8, 0.5, 0.3, 0.6, 1.2, 2.0, 3.5, 5.5, 10.4, 3.0, 1.0, 0.5, 0.3, 0.2, 0.4, 0.6, 0.3, 0.2, 0.3, 0.5, 0.3, 0.2, 0.4, 0.6, 0.3, 0.2, 0.4, 0.6, 0.3, 0.2, 0.4, 0.6, 0.3, 0.2, 0.4, 0.8, 1.5, 2.5, 3.2, 4.0, 1.5, 0.6, 0.3, 0.2],
    [0.3, 0.6, 1.0, 0.6, 0.4, 0.8, 1.5, 2.4, 3.6, 5.4, 2.0, 0.8, 0.4, 0.2, 0.3, 0.6, 0.4, 0.2, 0.3, 0.5, 0.3, 0.2, 0.4, 0.6, 0.3, 0.2, 0.4, 0.8, 0.5, 0.3, 0.6, 1.2, 2.5, 4.5, 8.2, 3.0, 1.0, 0.5, 0.3, 0.2, 0.3, 0.2, 0.1, 0.2, 0.1, 0.1],
    [0.1, 0.3, 0.5, 0.3, 0.2, 0.4, 0.7, 0.4, 0.2, 0.3, 0.6, 0.4, 0.2, 0.3, 0.5, 0.8, 0.5, 0.3, 0.2, 0.4, 0.6, 0.4, 0.2, 0.3, 0.5, 0.3, 0.2, 0.4, 0.8, 1.5, 2.5, 4.0, 2.0, 0.8, 0.4, 0.2, 0.3, 0.5, 0.3, 0.2, 0.1, 0.2, 0.3, 0.2, 0.1, 0.1],
    [0.2, 0.4, 0.6, 0.4, 0.2, 0.5, 0.8, 0.5, 0.3, 0.2, 0.4, 0.6, 0.4, 0.2, 0.3, 0.5, 0.3, 0.2, 0.4, 0.6, 0.3, 0.2, 0.4, 0.6, 0.4, 0.2, 0.3, 0.6, 0.4, 0.2, 0.3, 0.5, 0.3, 0.2, 0.4, 0.8, 1.6, 2.8, 5.0, 2.0, 0.8, 0.4, 0.2, 0.3, 0.2, 0.1],
    [0.3, 0.5, 0.8, 0.5, 0.3, 0.4, 0.8, 0.5, 0.3, 0.5, 0.8, 0.5, 0.3, 0.2, 0.4, 0.6, 0.3, 0.2, 0.3, 0.5, 0.3, 0.2, 0.4, 0.7, 0.4, 0.2, 0.3, 0.5, 0.3, 0.2, 0.4, 0.6, 0.3, 0.2, 0.3, 0.5, 0.3, 0.2, 0.4, 0.6, 0.3, 0.2, 0.1, 0.2, 0.1, 0.1],
    [0.2, 0.4, 0.7, 0.4, 0.2, 0.4, 0.6, 0.4, 0.6, 1.0, 1.6, 1.0, 0.6, 1.5, 3.5, 10.4, 3.0, 1.0, 0.5, 0.3, 0.2, 0.4, 0.6, 0.3, 0.2, 0.4, 0.6, 0.3, 0.2, 0.4, 0.6, 0.3, 0.2, 0.4, 0.6, 0.3, 0.2, 0.4, 0.3, 0.2, 0.1, 0.2, 0.3, 0.2, 0.1, 0.1],
    [0.2, 0.3, 0.5, 0.3, 0.2, 0.4, 0.6, 0.9, 0.5, 0.3, 0.2, 0.4, 0.6, 0.3, 0.2, 0.4, 0.6, 0.4, 0.2, 0.3, 0.5, 0.8, 0.5, 0.3, 0.6, 1.0, 0.6, 0.3, 0.2, 0.4, 0.6, 0.4, 0.2, 0.3, 0.5, 0.3, 0.2, 0.4, 0.6, 0.3, 0.2, 0.1, 0.2, 0.3, 0.2, 0.1],
    [0.1, 0.3, 0.6, 0.4, 0.2, 0.4, 0.7, 0.4, 0.2, 0.3, 0.5, 0.3, 0.2, 0.4, 0.6, 0.4, 0.2, 0.3, 0.5, 0.3, 0.2, 0.4, 0.6, 0.4, 0.2, 0.3, 0.5, 0.3, 0.2, 0.4, 0.6, 0.4, 0.2, 0.5, 1.0, 2.0, 4.0, 9.9, 3.5, 1.2, 0.5, 0.3, 0.2, 0.2, 0.1, 0.1],
    [0.4, 0.8, 1.6, 3.0, 5.4, 2.0, 0.8, 0.4, 0.6, 1.0, 0.6, 0.4, 0.2, 0.3, 0.5, 0.3, 0.2, 0.4, 0.6, 0.3, 0.2, 0.4, 0.8, 1.6, 3.0, 6.0, 11.8, 3.0, 1.0, 0.5, 0.3, 0.2, 0.4, 0.6, 0.3, 0.2, 0.4, 0.6, 0.3, 0.2, 0.1, 0.2, 0.3, 0.2, 0.1, 0.1],
]

title = 'GEFS-12Z-UPD:  11-03-2026  22:00'
ylo, yhi = -52.3, 33.3
PRECIP_SHIFT = 45   # right axis (mm) = left axis + 45


def fx(x):
    return x / W


def fy(y):
    return 1 - y / H


fig = plt.figure(figsize=(W / 100, H / 100), dpi=100)
fig.patch.set_facecolor('white')
ax = fig.add_axes([fx(27), fy(303), (368 - 27) / W, 303 / H])
ax.set_xlim(0, 384)
ax.set_ylim(ylo, yhi)
ax.set_xticks(day_hours)
ax.set_xticklabels([])
ax.set_yticks(np.arange(-45, 31, 5))
ax.tick_params(axis='both', length=0)
ax.tick_params(axis='y', pad=3.6, labelsize=4.3, labelcolor='#202020')
ax.grid(True, color='#d4d4d4', lw=0.8)
ax.set_axisbelow(True)
for s in ['top', 'bottom', 'right']:
    ax.spines[s].set_visible(False)
ax.spines['left'].set_color('#8c8c8c')
ax.spines['left'].set_linewidth(1.2)
ax.axhline(0, color='#a8a8a8', lw=1.4, zorder=1)

for vals, col in zip(t850_perts, pert_colors):
    ax.plot(pert_hours, vals, color=col, lw=0.55, zorder=2)
for vals, col in zip(t500_perts, pert_colors):
    ax.plot(pert_hours, vals, color=col, lw=0.55, zorder=2)
ax.plot(hours, t850_gfs, color='black', lw=1.3, zorder=3)
ax.plot(hours, t500_gfs, color='black', lw=1.3, zorder=3)
ax.plot(hours, t850_ctrl, color='#0000ff', lw=1.4, zorder=4)
ax.plot(hours, t500_ctrl, color='#0000ff', lw=1.4, zorder=4)
ax.plot(hours, t850_mean, color='#ff0000', lw=2.0, zorder=5)
ax.plot(hours, t500_mean, color='#ff0000', lw=2.0, zorder=5)

ax.text(5.6, 5.6, 'Temp. 850hPa', family=MONO, fontsize=3.9, va='center', zorder=6)
ax.text(5.6, -22.6, 'Temp. 500hPa', family=MONO, fontsize=3.9, va='center', zorder=6)
ax.text(5.6, -43.4, 'Précipitations', family=MONO, fontsize=3.9, va='center', zorder=6)

for h, lab in zip(day_hours, day_labels):
    ax.text(h + 3.2, -0.004, lab, transform=ax.get_xaxis_transform(), rotation=90,
            ha='center', va='top', family=MONO, fontsize=3.5, color='#202020')

ax2 = ax.twinx()
ax2.set_ylim(ylo + PRECIP_SHIFT, yhi + PRECIP_SHIFT)
ax2.set_yticks(np.arange(0, 76, 5))
ax2.tick_params(axis='y', length=0, pad=3.6, labelsize=4.3, labelcolor='#202020')
for s in ['top', 'bottom', 'left']:
    ax2.spines[s].set_visible(False)
ax2.spines['right'].set_color('#8c8c8c')
ax2.spines['right'].set_linewidth(1.2)
for vals, col in zip(precip_perts, pert_colors):
    ax2.plot(precip_pert_hours, vals, color=col, lw=0.55, zorder=2)
ax2.plot(hours, precip_gfs, color='black', lw=1.3, zorder=3)
ax2.plot(hours, precip_ctrl, color='#0000ff', lw=1.4, zorder=4)
ax2.plot(hours, precip_mean, color='#ff0000', lw=2.0, zorder=5)

fig.text(fx(30), fy(27), title, fontsize=7.6, color='#f4f400', va='center', ha='left',
         path_effects=[pe.withStroke(linewidth=1.0, foreground='#505050')])

# bottom legend block
small = dict(family=MONO, fontsize=3.7, color='#202020', va='center')
fig.text(fx(12), fy(307.5), '(°C)', **small)
fig.text(fx(378), fy(308), '(mm)', **small)
fig.text(fx(4), fy(316), 'Alt. 162m', **small)
fig.add_artist(Line2D([fx(18), fx(35)], [fy(323), fy(323)], transform=fig.transFigure,
                      color='#ff0000', lw=2.2))
fig.text(fx(40), fy(323), 'Moyenne des scénarios', **small)
fig.add_artist(Line2D([fx(120), fx(137)], [fy(321.5), fy(321.5)], transform=fig.transFigure,
                      color='#0000ff', lw=1.9))
fig.add_artist(Line2D([fx(120), fx(137)], [fy(326), fy(326)], transform=fig.transFigure,
                      color='black', lw=1.9))
fig.text(fx(141), fy(321.5), 'Run de contrôle', **small)
fig.text(fx(141), fy(328), 'Run GFS', **small)
fig.text(fx(32), fy(334), '❄', fontsize=5.5, color='#7cc4f0', ha='center', va='center')
fig.text(fx(40), fy(335), 'Risque neige', **small)
fig.text(fx(181), fy(332), '30 Perts.', **small)
for i, col in enumerate(pert_colors):
    cx = 215.5 + 6.07 * i
    fig.text(fx(cx), fy(327.3), '%02d' % (i + 1), family=MONO, fontsize=2.9,
             ha='center', va='center', color='#303030')
    fig.add_artist(Rectangle((fx(cx - 2.7), fy(335.5)), 5.4 / W, 3.6 / H,
                             transform=fig.transFigure, color=col, lw=0))

fig.add_artist(Rectangle((fx(12), fy(357)), 224 / W, 18 / H, transform=fig.transFigure,
                         fill=False, ec='black', lw=0.8))
fig.text(fx(16), fy(343.5), 'Diagramme des ensembles GEFS sur 384h : 40.6N 22.9E',
         family=MONO, fontsize=4.4, fontweight='bold', va='center', color='black')
fig.text(fx(16), fy(351), 'Températures 850hPa et 500hPa (°C) , précipitations (mm)', **small)
fig.text(fx(240), fy(341), 'Ensemble GEFS du 11/03/2026 - 12Z', **small)
fig.text(fx(240), fy(352), 'Copyright 2026 Meteociel.fr', family=MONO, fontsize=4.4,
         fontweight='bold', va='center', color='black')

fig.savefig('out.png', dpi=100)
